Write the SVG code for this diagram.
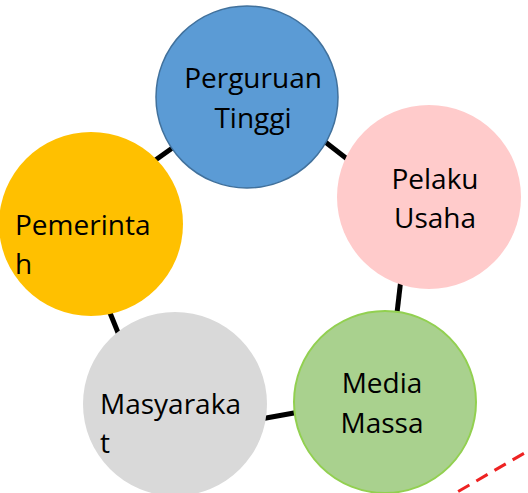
<svg xmlns="http://www.w3.org/2000/svg" width="528" height="493" viewBox="0 0 528 493">
<style>
.conn line{stroke:#000;stroke-width:5;stroke-linecap:butt}
text{font-family:"Open Sans","Noto Sans",sans-serif;font-size:28px;fill:#000}
.c{text-anchor:middle}
</style>
<rect width="528" height="493" fill="#fff"/>
<g id="connectors" class="conn">
<line x1="140" y1="171" x2="185" y2="139"/>
<line x1="315" y1="134" x2="360" y2="169"/>
<line x1="402" y1="270" x2="395" y2="330"/>
<line x1="255" y1="420" x2="305" y2="411"/>
<line x1="106" y1="303" x2="121" y2="340"/>
</g>
<g id="perguruan-tinggi">
<circle cx="247" cy="97" r="91" fill="#5B9BD5" stroke="#41719C" stroke-width="1.5"/>
<text class="c" x="253" y="88">Perguruan</text>
<text class="c" x="253" y="128">Tinggi</text>
</g>
<g id="pelaku-usaha">
<circle cx="429" cy="197" r="92" fill="#FFCBCB"/>
<text class="c" x="435" y="189">Pelaku</text>
<text class="c" x="435" y="228">Usaha</text>
</g>
<g id="pemerintah">
<circle cx="91" cy="224" r="92" fill="#FFC000"/>
<text x="15" y="235">Pemerinta</text>
<text x="15" y="274">h</text>
</g>
<g id="media-massa">
<circle cx="385" cy="402" r="91" fill="#A9D18E" stroke="#92D050" stroke-width="2"/>
<text class="c" x="382" y="393">Media</text>
<text class="c" x="382" y="433">Massa</text>
</g>
<g id="masyarakat">
<circle cx="175" cy="404" r="92" fill="#D9D9D9"/>
<text x="100" y="414">Masyaraka</text>
<text x="100" y="453">t</text>
</g>
<line x1="440" y1="502" x2="540" y2="444" stroke="#EE2222" stroke-width="3" stroke-dasharray="13 8"/>
</svg>
